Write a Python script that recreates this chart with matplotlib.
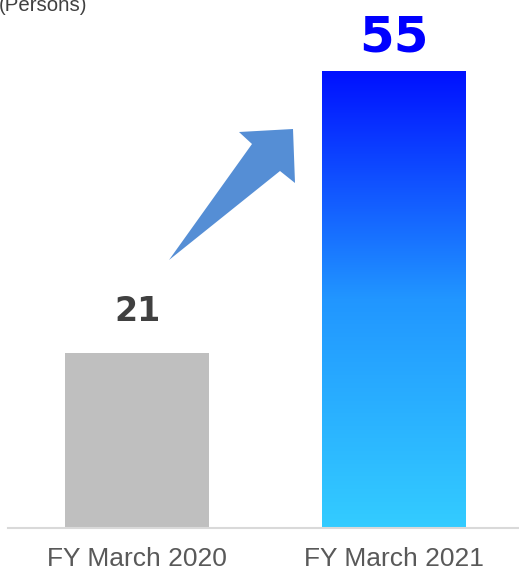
import numpy as np
import matplotlib
matplotlib.use("Agg")
import matplotlib.pyplot as plt
from matplotlib.patches import Polygon
from matplotlib.colors import LinearSegmentedColormap

categories = ["FY March 2020", "FY March 2021"]
values = [21, 55]
value_labels = ["21", "55"]
unit_label = "(Persons)"

W, H = 519, 570
fig = plt.figure(figsize=(W / 100, H / 100), dpi=100)
ax = fig.add_axes([8 / W, (H - 528) / H, (W - 8) / W, 528 / H])

x = np.arange(len(categories))
bars = ax.bar(x, values, width=0.56, color=["#bfbfbf", "none"], zorder=2)

# gradient fill for the second bar
b = bars[1]
cmap = LinearSegmentedColormap.from_list("g", ["#33ccff", "#2196ff", "#0010ff"])
grad = np.linspace(0, 1, 256).reshape(-1, 1)
im = ax.imshow(grad, cmap=cmap, origin="lower", aspect="auto",
               extent=[b.get_x(), b.get_x() + b.get_width(), 0, b.get_height()],
               zorder=2)
im.set_clip_path(b)
ax.set_xlim(-0.502, 1.486)
ax.set_ylim(0, 63.5)

for s in ["top", "left", "right"]:
    ax.spines[s].set_visible(False)
ax.spines["bottom"].set_color("#d9d9d9")
ax.spines["bottom"].set_linewidth(1.5)
ax.set_yticks([])
ax.set_xticks(x)
ax.set_xticklabels(categories, fontsize=19, color="#595959", family="Liberation Sans")
ax.tick_params(axis="x", length=0, pad=14)

label_colors = ["#404040", "#0000ff"]
label_sizes = [24, 36]
label_offsets = [23, 13.5]
for i, (v, t) in enumerate(zip(values, value_labels)):
    ax.annotate(t, (x[i], v), xytext=(0, label_offsets[i]), textcoords="offset points",
                ha="center", va="baseline", fontsize=label_sizes[i],
                fontweight="bold", color=label_colors[i], family="DejaVu Sans")

fig.text(-1 / W, 1 - 11 / H, unit_label, fontsize=14.7, color="#404040",
         family="Liberation Sans", ha="left", va="baseline")

# decorative arrow (pixel coords from top-left)
pts = [(169, 260), (252, 144), (239, 132), (293, 129), (295, 183), (280, 171)]
poly = Polygon([(px / W, 1 - py / H) for px, py in pts], closed=True,
               transform=fig.transFigure, facecolor="#558ed5", edgecolor="none")
fig.patches.append(poly)

fig.savefig("out.png", dpi=100)
